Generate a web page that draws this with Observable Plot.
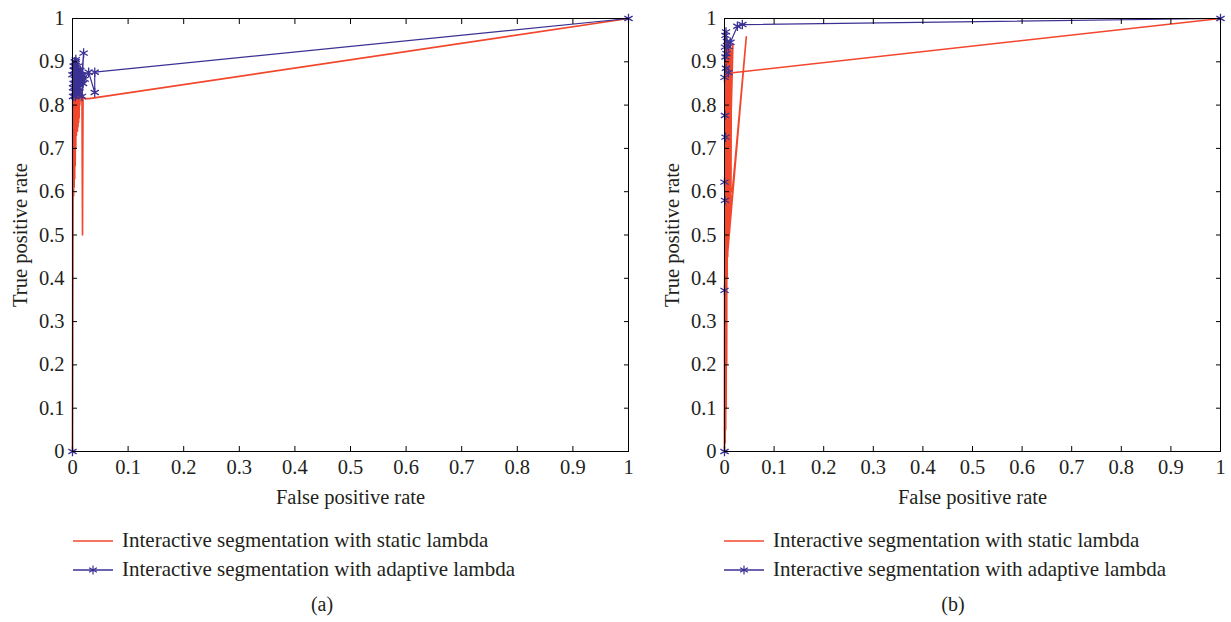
<!DOCTYPE html>
<html><head><meta charset="utf-8">
<script src="https://cdn.jsdelivr.net/npm/d3@7"></script>
<script src="https://cdn.jsdelivr.net/npm/@observablehq/plot@0.6"></script>
<style>
body{margin:0;background:#fff;font-family:"Liberation Serif",serif;color:#231f20;}
#wrap{position:relative;width:1231px;height:622px;overflow:hidden;background:#fff;}
.panel{position:absolute;top:0;}
.legend{position:absolute;top:526px;font-size:21px;}
.legrow{display:flex;align-items:center;height:29px;white-space:nowrap;}
.legrow svg{margin-right:9px;}
.cap{position:absolute;top:593px;font-size:20px;transform:translateX(-50%);}
</style></head><body><div id="wrap"></div>
<script>
// ---------- data ----------
const tickValues = [0, 0.1, 0.2, 0.3, 0.4, 0.5, 0.6, 0.7, 0.8, 0.9, 1];
const seriesNames = ["Interactive segmentation with static lambda", "Interactive segmentation with adaptive lambda"];
const panelNames = ["(a)", "(b)"];

// panel (a) – static lambda
const aStaticFpr = [0, 0.001, 0.0015, 0.002, 0.0025, 0.003, 0.0035, 0.004, 0.0045, 0.005, 0.0055, 0.006, 0.0065, 0.007, 0.0075, 0.008, 0.0085, 0.009, 0.0095, 0.010, 0.0105, 0.011, 0.0115, 0.012, 0.0125, 0.013, 0.015, 0.017, 0.018, 0.019, 0.022, 0.030, 1];
const aStaticTpr = [0, 0.58, 0.84, 0.59, 0.86, 0.61, 0.85, 0.63, 0.87, 0.66, 0.86, 0.70, 0.85, 0.73, 0.84, 0.74, 0.86, 0.74, 0.85, 0.75, 0.84, 0.76, 0.83, 0.77, 0.84, 0.80, 0.83, 0.82, 0.50, 0.82, 0.815, 0.815, 1];
// panel (a) – adaptive lambda
const aAdaptFpr = [0, 0, 0.001, 0.002, 0.001, 0.003, 0.002, 0.004, 0.003, 0.005, 0.004, 0.006, 0.005, 0.007, 0.004, 0.008, 0.006, 0.009, 0.007, 0.010, 0.008, 0.011, 0.006, 0.012, 0.009, 0.013, 0.010, 0.014, 0.011, 0.015, 0.012, 0.016, 0.020, 0.018, 0.017, 0.019, 0.022, 0.029, 0.040, 0.040, 1];
const aAdaptTpr = [0, 0.87, 0.84, 0.89, 0.82, 0.88, 0.85, 0.90, 0.83, 0.88, 0.86, 0.90, 0.82, 0.87, 0.89, 0.84, 0.88, 0.86, 0.83, 0.89, 0.85, 0.87, 0.905, 0.84, 0.88, 0.86, 0.83, 0.88, 0.85, 0.87, 0.83, 0.86, 0.92, 0.87, 0.82, 0.85, 0.86, 0.876, 0.829, 0.876, 1];

// panel (b) – static lambda
const bStaticFpr = [0, 0.001, 0.0015, 0.002, 0.0025, 0.003, 0.0035, 0.004, 0.0045, 0.005, 0.0055, 0.006, 0.0065, 0.007, 0.0075, 0.008, 0.0085, 0.009, 0.0095, 0.010, 0.0105, 0.011, 0.0115, 0.012, 0.013, 0.014, 0.017, 0.007, 0.044, 0.005, 0.002, 0.003, 1];
const bStaticTpr = [0, 0.93, 0.02, 0.95, 0.05, 0.94, 0.10, 0.93, 0.20, 0.95, 0.40, 0.94, 0.45, 0.93, 0.48, 0.92, 0.50, 0.94, 0.52, 0.93, 0.55, 0.92, 0.58, 0.94, 0.60, 0.91, 0.94, 0.49, 0.958, 0.44, 0.90, 0.873, 1];
// panel (b) – adaptive lambda
const bAdaptFpr = [0, 0, 0.001, 0, 0.002, 0.001, 0, 0.003, 0.002, 0.004, 0.001, 0.005, 0.002, 0.003, 0.008, 0.008, 0.012, 0.026, 0.036, 1];
const bAdaptTpr = [0, 0.372, 0.58, 0.622, 0.726, 0.776, 0.864, 0.885, 0.911, 0.919, 0.934, 0.947, 0.961, 0.969, 0.875, 0.935, 0.945, 0.982, 0.986, 1];

const RED = "#f2472c", BLUE = "#3b3194", INK = "#231f20";

function rows(fx, ty) { return fx.map((x, i) => ({x, y: ty[i]})); }

function makePanel({left, width, marginLeft, marginRight, statics, adapt, redFirst}) {
  const fmt = d => d3.format("~g")(d);
  const redLine = Plot.line(statics, {x: "x", y: "y", stroke: RED, strokeWidth: 1.6});
  const blueLine = Plot.line(adapt, {x: "x", y: "y", stroke: BLUE, strokeWidth: 1.2});
  const plot = Plot.plot({
    width, height: 510,
    marginLeft, marginRight, marginTop: 18, marginBottom: 59,
    style: {fontFamily: "Liberation Serif, serif", fontSize: "20.5px", color: INK, background: "transparent", overflow: "visible"},
    x: {domain: [0, 1]},
    y: {domain: [0, 1]},
    marks: [
      ...(redFirst ? [redLine, blueLine] : [blueLine, redLine]),
      Plot.dot(adapt, {x: "x", y: "y", symbol: "asterisk", r: 4.5, stroke: BLUE, strokeWidth: 1.3}),
      Plot.frame({stroke: "#000", strokeWidth: 1}),
      Plot.axisX({ticks: tickValues, tickSize: -5, tickFormat: () => "", label: null, stroke: "#000"}),
      Plot.axisX({ticks: tickValues, anchor: "top", tickSize: -5, tickFormat: () => "", label: null, stroke: "#000"}),
      Plot.axisY({ticks: tickValues, tickSize: -5, tickFormat: () => "", label: null, stroke: "#000"}),
      Plot.axisY({ticks: tickValues, anchor: "right", tickSize: -5, tickFormat: () => "", label: null, stroke: "#000"}),
      Plot.axisX({ticks: tickValues, tickSize: 0, tickPadding: 8, tickFormat: fmt, fill: INK,
        label: "False positive rate", labelAnchor: "center", labelArrow: "none", labelOffset: 52}),
      Plot.axisY({ticks: tickValues, tickSize: 0, tickPadding: 8, tickFormat: fmt, fill: INK,
        label: "True positive rate", labelAnchor: "center", labelArrow: "none", labelOffset: 60})
    ]
  });
  plot.classList.add("panel");
  plot.style.left = left + "px";
  return plot;
}

const wrap = document.getElementById("wrap");
wrap.appendChild(makePanel({left: 0, width: 640, marginLeft: 72, marginRight: 12, redFirst: true,
  statics: rows(aStaticFpr, aStaticTpr), adapt: rows(aAdaptFpr, aAdaptTpr)}));
wrap.appendChild(makePanel({left: 650, width: 581, marginLeft: 74, marginRight: 11, redFirst: false,
  statics: rows(bStaticFpr, bStaticTpr), adapt: rows(bAdaptFpr, bAdaptTpr)}));

function legendSwatch(color, star) {
  return `<svg width="40" height="12"><line x1="0" y1="6" x2="40" y2="6" stroke="${color}" stroke-width="1.3"/>` +
    (star ? `<path d="M20,1.5V10.5M16.1,3.75L23.9,8.25M16.1,8.25L23.9,3.75" stroke="${color}" stroke-width="1.2"/>` : "") + `</svg>`;
}
[[73, 322], [724, 953]].forEach(([lx, cx], i) => {
  const lg = document.createElement("div");
  lg.className = "legend";
  lg.style.left = lx + "px";
  lg.innerHTML = `<div class="legrow">${legendSwatch(RED, false)}<span>${seriesNames[0]}</span></div>` +
                 `<div class="legrow">${legendSwatch(BLUE, true)}<span>${seriesNames[1]}</span></div>`;
  wrap.appendChild(lg);
  const cap = document.createElement("div");
  cap.className = "cap";
  cap.style.left = cx + "px";
  cap.textContent = panelNames[i];
  wrap.appendChild(cap);
});
</script></body></html>
